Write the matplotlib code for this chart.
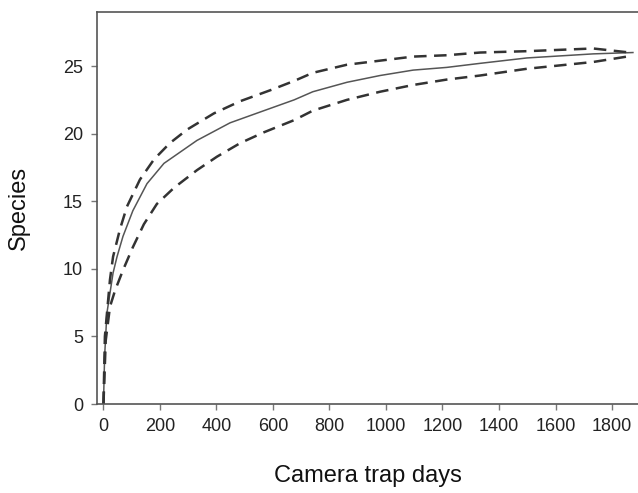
import matplotlib.pyplot as plt

plt.rcParams['font.family'] = ['Liberation Sans', 'DejaVu Sans']

# camera trap days vs species
days_mean = [0, 4, 12, 34, 48, 69, 104, 154, 214, 331, 448, 568, 675, 741, 862, 979,
             1096, 1215, 1333, 1499, 1733, 1874]
species_mean = [0, 3.5, 6.7, 9.7, 10.9, 12.4, 14.3, 16.3, 17.8, 19.5, 20.8, 21.7, 22.5,
                23.1, 23.8, 24.3, 24.7, 24.9, 25.2, 25.6, 25.9, 26.0]

days_upper = [0, 5, 23, 34, 58, 83, 129, 179, 235, 296, 391, 484, 589, 675, 741, 862,
              979, 1096, 1215, 1333, 1499, 1733, 1864]
species_upper = [0, 5.0, 9.2, 10.9, 12.9, 14.6, 16.6, 18.1, 19.3, 20.3, 21.5, 22.4, 23.2,
                 23.9, 24.5, 25.1, 25.4, 25.7, 25.8, 26.0, 26.1, 26.3, 26.0]

days_lower = [0, 8, 23, 41, 69, 104, 143, 189, 250, 331, 402, 484, 568, 675, 741, 862,
              979, 1096, 1215, 1333, 1499, 1733, 1853]
species_lower = [0, 4.7, 7.2, 8.4, 9.9, 11.6, 13.3, 14.8, 16.0, 17.3, 18.3, 19.3, 20.1,
                 21.0, 21.7, 22.5, 23.1, 23.6, 24.0, 24.3, 24.8, 25.3, 25.7]

x_ticks = [0, 200, 400, 600, 800, 1000, 1200, 1400, 1600, 1800]
y_ticks = [0, 5, 10, 15, 20, 25]

fig = plt.figure(figsize=(6.38, 4.93), dpi=100)
ax = fig.add_axes([0.152, 0.1805, 0.848, 0.7952])

ax.plot(days_mean, species_mean, color='#555555', lw=1.1)
ax.plot(days_upper, species_upper, color='#333333', lw=1.8, dashes=(5, 3))
ax.plot(days_lower, species_lower, color='#333333', lw=1.8, dashes=(5, 3))

ax.set_xlim(-23, 1892)
ax.set_ylim(0, 29)
ax.set_xticks(x_ticks)
ax.set_yticks(y_ticks)

ax.spines['right'].set_visible(False)
for s in ['left', 'top', 'bottom']:
    ax.spines[s].set_color('#555555')
    ax.spines[s].set_linewidth(1.2)
ax.tick_params(direction='out', length=4, width=1, color='#777777',
               labelsize=13, labelcolor='#222222', pad=6)

ax.set_xlabel('Camera trap days', fontsize=17, color='#111111', labelpad=22)
ax.set_ylabel('Species', fontsize=17, color='#111111', labelpad=24)

fig.savefig('out.png', dpi=100)
